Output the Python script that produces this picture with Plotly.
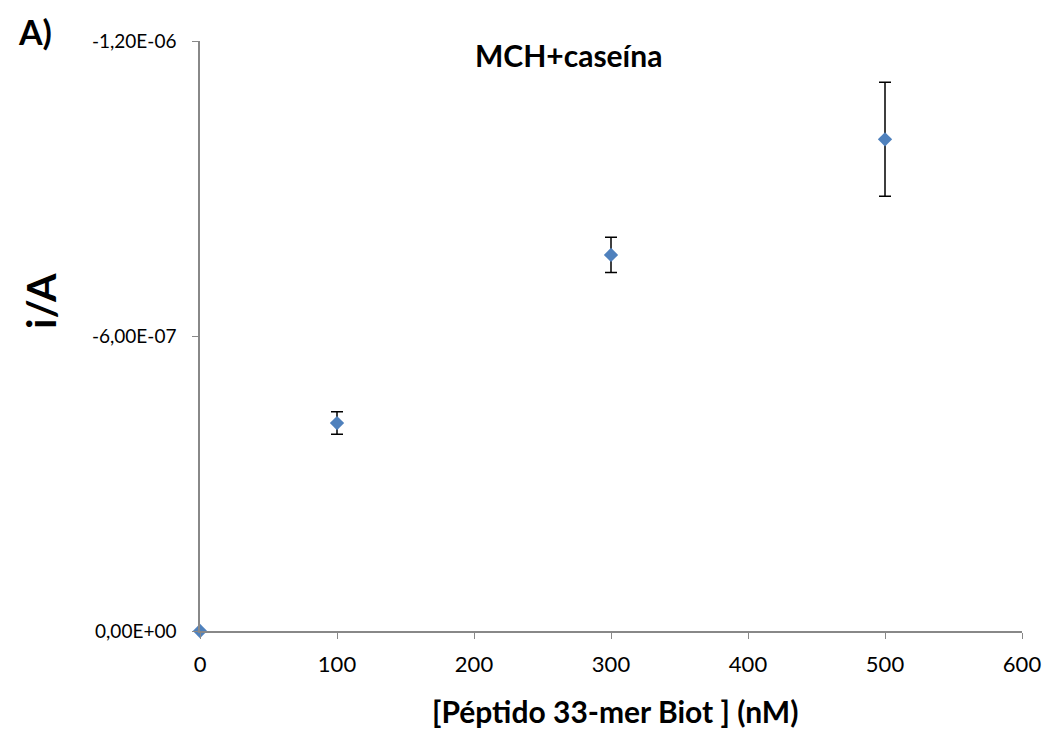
import plotly.graph_objects as go

concentration_nM = [0, 100, 300, 500]
current_A = [0.0, -4.23e-7, -7.65e-7, -1.0e-6]
current_err_A = [0.0, 2.3e-8, 3.6e-8, 1.16e-7]

y_tick_vals = [0, -6e-7, -1.2e-6]
y_tick_text = ["0,00E+00", "-6,00E-07", "-1,20E-06"]
x_tick_vals = [0, 100, 200, 300, 400, 500, 600]

FONT = "Lato, 'Open Sans', sans-serif"

fig = go.Figure()
fig.add_trace(go.Scatter(
    x=concentration_nM, y=current_A, mode="markers",
    marker=dict(symbol="diamond", size=11, color="#4F81BD"),
    error_y=dict(type="data", array=current_err_A, visible=True,
                 color="black", thickness=1.5, width=6),
    cliponaxis=False, showlegend=False,
))

fig.update_layout(
    width=1048, height=755,
    margin=dict(l=200, r=26, t=41, b=124),
    paper_bgcolor="white", plot_bgcolor="white",
    font=dict(family=FONT, color="black"),
    xaxis=dict(range=[0, 600], tickvals=x_tick_vals, showgrid=False,
               zeroline=False, showline=True, linecolor="#888888", linewidth=1.5,
               ticks="outside", ticklen=6, tickcolor="#888888",
               ticklabelstandoff=7, automargin=False,
               tickfont=dict(size=22, family=FONT)),
    yaxis=dict(range=[0, -1.2e-6], tickvals=y_tick_vals, ticktext=y_tick_text,
               showgrid=False, zeroline=False, showline=True, linecolor="#888888",
               linewidth=1.5, ticks="outside", ticklen=6, tickcolor="#888888",
               ticklabelstandoff=12, automargin=False,
               tickfont=dict(size=19, family=FONT)),
    annotations=[
        dict(text="<b>MCH+caseína</b>", x=568, y=55, showarrow=False,
             font=dict(size=30, family=FONT)),
        dict(text="<b>A)</b>", x=35, y=32, showarrow=False,
             font=dict(size=34, family=FONT)),
        dict(text="<b>i/A</b>", x=40, y=301, showarrow=False, textangle=-90,
             font=dict(size=41, family=FONT)),
        dict(text="<b>[Péptido 33-mer Biot ] (nM)</b>", x=615, y=711, showarrow=False,
             font=dict(size=30, family=FONT)),
    ],
)

# convert pixel-positioned annotations to paper coordinates
W, H = 1048, 755
for a in fig.layout.annotations:
    px, py = a.x, a.y
    a.xref = "paper"; a.yref = "paper"
    a.x = (px - 200) / (W - 200 - 26)
    a.y = (H - 124 - py) / (H - 41 - 124)
    a.xanchor = "center"; a.yanchor = "middle"

fig.write_html("out.html")
